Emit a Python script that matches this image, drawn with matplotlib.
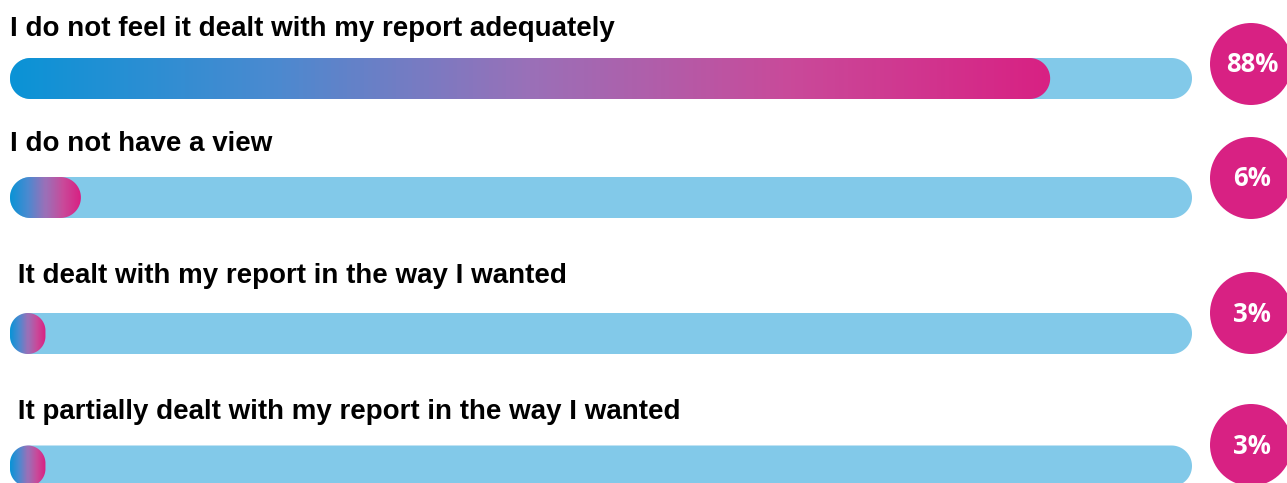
import numpy as np
import matplotlib
matplotlib.use("Agg")
import matplotlib.pyplot as plt
from matplotlib.patches import PathPatch, Circle
from matplotlib.path import Path
from matplotlib.colors import LinearSegmentedColormap

labels = [
    "I do not feel it dealt with my report adequately",
    "I do not have a view",
    " It dealt with my report in the way I wanted",
    " It partially dealt with my report in the way I wanted",
]
values = [88, 6, 3, 3]
pct_labels = ["88%", "6%", "3%", "3%"]

# layout (pixels)
W, H = 1287, 483
bar_x0, bar_x1 = 10, 1192
bar_h = 41
bar_y = [78.5, 197.5, 333.5, 466]
label_base = [36, 151, 283, 419]
circ_y = [64, 178, 313, 445]
circ_x, circ_r = 1251, 41

bg_color = "#82C9E9"
pink = "#D82183"
cmap = LinearSegmentedColormap.from_list(
    "bp", [(0, "#0A93D6"), (0.25, "#4A8AD0"), (0.5, "#9A70B8"),
           (0.75, "#C94A9A"), (1, pink)])

fig = plt.figure(figsize=(W / 100, H / 100), dpi=100)
ax = fig.add_axes([0, 0, 1, 1])
ax.set_xlim(0, W)
ax.set_ylim(H, 0)
ax.axis("off")


def pill(x0, x1, yc, color):
    # rounded bar with circular ends
    r = min(bar_h / 2, (x1 - x0) / 2)
    hh = bar_h / 2 - r
    t = np.linspace(-np.pi / 2, np.pi / 2, 40)
    right = np.column_stack([x1 - r + r * np.cos(t), yc + hh * np.sign(np.sin(t)) + r * np.sin(t)])
    left = np.column_stack([x0 + r - r * np.cos(t), yc - hh * np.sign(np.sin(t)) - r * np.sin(t)])
    verts = np.vstack([right, left, right[:1]])
    codes = [Path.MOVETO] + [Path.LINETO] * (len(verts) - 2) + [Path.CLOSEPOLY]
    p = PathPatch(Path(verts, codes), fc=color, ec="none", lw=0)
    ax.add_patch(p)
    return p


for i, (lab, v, pl) in enumerate(zip(labels, values, pct_labels)):
    yc = bar_y[i]
    pill(bar_x0, bar_x1, yc, bg_color)
    x_end = bar_x0 + (bar_x1 - bar_x0) * v / 100
    clip = pill(bar_x0, x_end, yc, "none")
    n = max(int(x_end - bar_x0), 2)
    grad = np.linspace(0, 1, n).reshape(1, -1)
    im = ax.imshow(grad, cmap=cmap, aspect="auto", interpolation="nearest",
                   extent=(bar_x0, x_end, yc + bar_h / 2, yc - bar_h / 2), zorder=3)
    im.set_clip_path(clip)
    ax.text(bar_x0, label_base[i], lab, fontsize=20, fontweight="bold",
            family="Liberation Sans", color="black", va="baseline", ha="left")
    ax.add_patch(Circle((circ_x, circ_y[i]), circ_r, fc=pink, ec="none", zorder=4))
    ax.text(circ_x + 1, circ_y[i] + 1, pl, fontsize=18.5, fontweight="bold",
            family="Open Sans", color="white", va="center", ha="center", zorder=5)

ax.set_xlim(0, W)
ax.set_ylim(H, 0)
fig.savefig("out.png", dpi=100)
